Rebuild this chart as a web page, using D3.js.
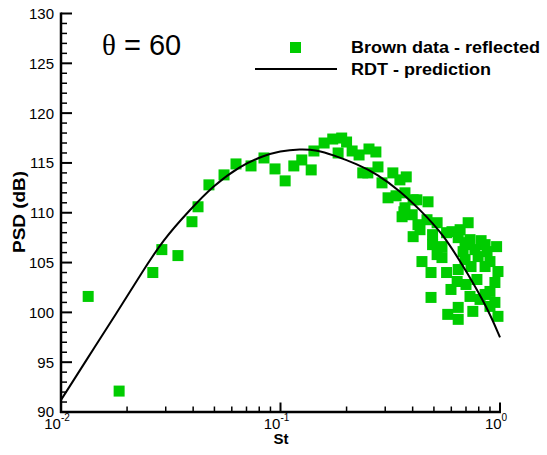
<!DOCTYPE html>
<html>
<head>
<meta charset="utf-8">
<style>
  body { margin: 0; background: #fff; }
  svg text { font-family: "Liberation Sans", Arial, sans-serif; fill: #000; }
</style>
</head>
<body>
<svg id="chart" width="547" height="455"></svg>
<script src="https://cdn.jsdelivr.net/npm/d3@7"></script>
<script>
// Brown data - reflected (St, PSD in dB)
var brownSt = [0.0133, 0.0184, 0.0262, 0.0288, 0.0341, 0.0395, 0.0421, 0.0472, 0.0553, 0.0627,
  0.0734, 0.0841, 0.0944, 0.105, 0.115, 0.125, 0.138, 0.142, 0.158, 0.173,
  0.190, 0.200, 0.183, 0.212, 0.228, 0.253, 0.272, 0.237, 0.250, 0.278,
  0.290, 0.325, 0.309, 0.350, 0.374, 0.336, 0.369, 0.402, 0.369, 0.358,
  0.398, 0.423, 0.418, 0.470, 0.365, 0.465, 0.517, 0.716, 0.432, 0.402,
  0.493, 0.571, 0.604, 0.658, 0.645, 0.730, 0.820, 0.493, 0.544, 0.965,
  0.855, 0.693, 0.708, 0.769, 0.679, 0.873, 0.441, 0.485, 0.571, 0.517,
  0.855, 0.979, 0.645, 0.738, 0.638, 0.785, 0.948, 0.598, 0.730, 0.855,
  0.485, 0.948, 0.645, 0.578, 0.752, 0.979, 0.645, 0.900, 0.900, 0.811,
  0.700, 0.900, 0.693, 0.544, 0.795];
var brownPsd = [101.6, 92.1, 104.0, 106.3, 105.7, 109.1, 110.6, 112.8, 113.8, 114.9,
  114.7, 115.5, 114.4, 113.2, 114.7, 115.3, 114.3, 116.2, 117.0, 117.4,
  117.5, 117.1, 116.0, 116.2, 115.8, 116.4, 116.1, 114.0, 114.0, 114.6,
  113.0, 114.0, 111.5, 113.3, 113.6, 111.7, 112.0, 111.3, 110.5, 109.6,
  109.8, 108.8, 111.3, 111.1, 110.1, 109.3, 109.0, 109.0, 108.3, 107.6,
  107.8, 108.0, 108.1, 108.3, 107.5, 107.3, 107.2, 106.8, 106.6, 106.6,
  106.8, 106.8, 107.0, 106.3, 106.1, 106.1, 105.1, 104.0, 104.0, 105.8,
  104.6, 104.1, 104.3, 104.6, 103.1, 103.3, 103.0, 102.3, 101.6, 101.8,
  101.5, 101.0, 100.5, 99.8, 100.1, 99.6, 99.3, 100.6, 105.1, 101.3,
  102.8, 102.1, 105.3, 105.5, 105.6];

// RDT - prediction
var rdtSt  = [0.01, 0.0133, 0.018, 0.0229, 0.0292, 0.0387, 0.0493, 0.0654, 0.0832, 0.0991,
  0.123, 0.147, 0.173, 0.223, 0.275, 0.350, 0.432, 0.550, 0.708, 0.873, 1.0];
var rdtPsd = [91.2, 95.5, 100.0, 103.7, 107.3, 110.3, 112.7, 114.7, 115.7, 116.2,
  116.4, 116.3, 115.8, 114.9, 113.9, 112.2, 110.3, 107.9, 104.0, 100.5, 97.5];

var yTicks = [90, 95, 100, 105, 110, 115, 120, 125, 130];
var xMajor = [0.01, 0.1, 1];
var xExp = ["-2", "-1", "0"];

var svg = d3.select("#chart");
var x = d3.scaleLog().domain([0.01, 1]).range([61, 500]);
var y = d3.scaleLinear().domain([90, 130]).range([412, 13.5]);

// minor ticks
var yMinor = d3.range(90, 131, 1);
svg.append("g").selectAll("line").data(yMinor).enter().append("line")
  .attr("x1", 61).attr("x2", function(d){ return d % 5 === 0 ? 72 : 67; })
  .attr("y1", function(d){ return y(d); }).attr("y2", function(d){ return y(d); })
  .attr("stroke", "#000").attr("stroke-width", function(d){ return d % 5 === 0 ? 2 : 1.5; });

var xMinor = [];
[0.01, 0.1].forEach(function(b){ for (var k = 2; k <= 9; k++) xMinor.push(b * k); });
svg.append("g").selectAll("line").data(xMinor).enter().append("line")
  .attr("x1", function(d){ return x(d); }).attr("x2", function(d){ return x(d); })
  .attr("y1", 412).attr("y2", 406.5)
  .attr("stroke", "#000").attr("stroke-width", 1.5);
svg.append("g").selectAll("line").data(xMajor).enter().append("line")
  .attr("x1", function(d){ return x(d); }).attr("x2", function(d){ return x(d); })
  .attr("y1", 412).attr("y2", 402.5)
  .attr("stroke", "#000").attr("stroke-width", 2);

// axis lines
svg.append("line").attr("x1", 61).attr("x2", 61).attr("y1", 12.5).attr("y2", 413)
  .attr("stroke", "#000").attr("stroke-width", 2.5);
svg.append("line").attr("x1", 60).attr("x2", 501).attr("y1", 412).attr("y2", 412)
  .attr("stroke", "#000").attr("stroke-width", 2.5);

// tick labels
svg.append("g").selectAll("text").data(yTicks).enter().append("text")
  .attr("x", 54).attr("y", function(d){ return y(d); }).attr("dy", "0.36em")
  .attr("text-anchor", "end").style("font-size", "15px")
  .text(function(d){ return d; });

var xl = svg.append("g").selectAll("text").data(xMajor).enter().append("text")
  .attr("x", function(d){ return x(d) - 4; }).attr("y", 429)
  .attr("text-anchor", "middle").style("font-size", "15px");
xl.append("tspan").text("10");
xl.append("tspan").attr("dy", -8).style("font-size", "10px").text(function(d, i){ return xExp[i]; });

// axis titles
svg.append("text").attr("x", 281).attr("y", 444).attr("text-anchor", "middle")
  .style("font-size", "15px").style("font-weight", "bold").text("St");
svg.append("text").attr("transform", "translate(25,212) rotate(-90)").attr("text-anchor", "middle")
  .style("font-size", "16px").style("font-weight", "bold")
  .attr("textLength", 82).attr("lengthAdjust", "spacingAndGlyphs").text("PSD (dB)");

// data markers
var pts = brownSt.map(function(s, i){ return {st: s, psd: brownPsd[i]}; });
svg.append("g").selectAll("rect").data(pts).enter().append("rect")
  .attr("x", function(d){ return x(d.st) - 5.5; })
  .attr("y", function(d){ return y(d.psd) - 5.5; })
  .attr("width", 11).attr("height", 11)
  .attr("fill", "#00cc00");

// prediction curve
var line = d3.line()
  .x(function(d, i){ return x(rdtSt[i]); })
  .y(function(d){ return y(d); })
  .curve(d3.curveBasis);
svg.append("path").attr("d", line(rdtPsd))
  .attr("fill", "none").attr("stroke", "#000").attr("stroke-width", 2);

// annotation
var th = svg.append("text").attr("x", 102).attr("y", 55).style("font-size", "29px");
th.append("tspan").style("font-family", "'Liberation Serif', 'Times New Roman', serif").text("\u03b8");
th.append("tspan").text(" = 60");

// legend
svg.append("rect").attr("x", 290).attr("y", 42).attr("width", 11).attr("height", 11).attr("fill", "#00cc00");
svg.append("line").attr("x1", 255).attr("x2", 337).attr("y1", 69).attr("y2", 69)
  .attr("stroke", "#000").attr("stroke-width", 2);
svg.append("text").attr("x", 351).attr("y", 53).style("font-size", "16px").style("font-weight", "bold")
  .attr("textLength", 189).attr("lengthAdjust", "spacingAndGlyphs").text("Brown data - reflected");
svg.append("text").attr("x", 351).attr("y", 75).style("font-size", "16px").style("font-weight", "bold")
  .attr("textLength", 140).attr("lengthAdjust", "spacingAndGlyphs").text("RDT - prediction");
</script>
</body>
</html>
